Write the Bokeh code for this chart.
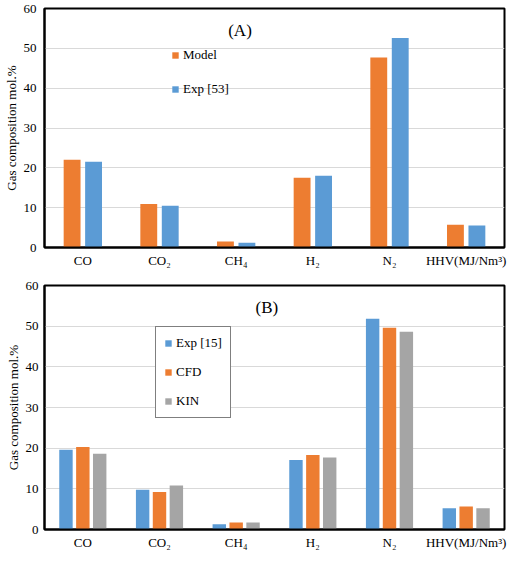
from bokeh.plotting import figure
from bokeh.layouts import column
from bokeh.models import Legend, LegendItem, Label, FactorRange, ColumnDataSource
from bokeh.transform import dodge
from bokeh.embed import file_html
from bokeh.resources import INLINE

categories = ["CO", "CO₂", "CH₄", "H₂", "N₂", "HHV(MJ/Nm³)"]

# Panel A
a_model = [22.0, 10.9, 1.5, 17.5, 47.7, 5.7]
a_exp53 = [21.5, 10.45, 1.2, 18.0, 52.6, 5.5]

# Panel B
b_exp15 = [19.6, 9.8, 1.3, 17.1, 51.8, 5.2]
b_cfd = [20.3, 9.25, 1.7, 18.35, 49.6, 5.65]
b_kin = [18.6, 10.8, 1.7, 17.7, 48.6, 5.25]

y_ticks = [0, 10, 20, 30, 40, 50, 60]

ORANGE = "#ED7D31"
BLUE = "#5B9BD5"
GRAY = "#A5A5A5"
FONT = "Liberation Serif"


def base_fig(height, mbl, mbr, mbt, mbb, ystand):
    p = figure(x_range=FactorRange(*categories), y_range=(0, 60), width=508, height=height,
               output_backend="svg", toolbar_location=None,
               min_border_left=mbl, min_border_right=mbr, min_border_top=mbt, min_border_bottom=mbb)
    p.outline_line_color = "black"
    p.outline_line_width = 2
    p.outline_line_alpha = 1
    p.xgrid.grid_line_color = None
    p.ygrid.ticker = y_ticks
    p.ygrid.grid_line_color = "#D9D9D9"
    p.yaxis.ticker = y_ticks
    for ax in (p.xaxis[0], p.yaxis[0]):
        ax.axis_line_color = "black"
        ax.axis_line_width = 2
        ax.major_tick_line_color = None
        ax.minor_tick_line_color = None
        ax.major_tick_out = 0
        ax.major_tick_in = 0
        ax.minor_tick_out = 0
        ax.minor_tick_in = 0
        ax.major_label_text_font = FONT
        ax.major_label_text_font_size = "13px"
        ax.major_label_text_color = "black"
    p.yaxis.major_label_standoff = ystand
    p.xaxis.major_label_standoff = 5
    p.xaxis.axis_label = None
    p.xaxis.axis_label_standoff = 0
    p.yaxis.axis_label = "Gas composition mol.%"
    p.yaxis.axis_label_text_font = FONT
    p.yaxis.axis_label_text_font_style = "normal"
    p.yaxis.axis_label_text_font_size = "13px"
    p.yaxis.axis_label_text_color = "black"
    p.yaxis.axis_label_standoff = 2
    p.background_fill_color = "white"
    p.border_fill_color = "white"
    return p


# ---------- Panel A ----------
src_a = ColumnDataSource(dict(cat=categories, model=a_model, exp=a_exp53))
p1 = base_fig(270, 37, 2, 8, 23, 8)
r_model = p1.vbar(x=dodge("cat", -0.14, range=p1.x_range), top="model", width=0.22,
                  source=src_a, fill_color=ORANGE, line_color=None)
r_exp = p1.vbar(x=dodge("cat", 0.14, range=p1.x_range), top="exp", width=0.22,
                source=src_a, fill_color=BLUE, line_color=None)
leg_a = Legend(items=[LegendItem(label="Model", renderers=[r_model]),
                      LegendItem(label="Exp [53]", renderers=[r_exp])],
               location=(127, 150), border_line_color=None, background_fill_alpha=0,
               padding=0, margin=0, spacing=18, glyph_width=8, glyph_height=8,
               label_height=14, label_standoff=4, label_text_font=FONT,
               label_text_font_size="13px", label_text_color="black")
p1.add_layout(leg_a)
p1.add_layout(Label(x=2.55, y=54.5, text="(A)", text_font=FONT, text_font_size="17px",
                    text_align="center", text_baseline="middle", text_color="black"))

# ---------- Panel B ----------
src_b = ColumnDataSource(dict(cat=categories, exp=b_exp15, cfd=b_cfd, kin=b_kin))
p2 = base_fig(282, 30, 4, 15, 12, 6)
r_e = p2.vbar(x=dodge("cat", -0.22, range=p2.x_range), top="exp", width=0.175,
              source=src_b, fill_color=BLUE, line_color=None)
r_c = p2.vbar(x=dodge("cat", 0.0, range=p2.x_range), top="cfd", width=0.175,
              source=src_b, fill_color=ORANGE, line_color=None)
r_k = p2.vbar(x=dodge("cat", 0.22, range=p2.x_range), top="kin", width=0.175,
              source=src_b, fill_color=GRAY, line_color=None)
leg_b = Legend(items=[LegendItem(label="Exp [15]", renderers=[r_e]),
                      LegendItem(label="CFD", renderers=[r_c]),
                      LegendItem(label="KIN", renderers=[r_k])],
               location=(111, 111), border_line_color="black", border_line_width=1.5,
               background_fill_color="white", background_fill_alpha=1,
               padding=8, margin=0, spacing=13, glyph_width=8, glyph_height=8,
               label_height=14, label_standoff=4, label_text_font=FONT,
               label_text_font_size="13px", label_text_color="black")
p2.add_layout(leg_b)
p2.add_layout(Label(x=2.9, y=54.5, text="(B)", text_font=FONT, text_font_size="17px",
                    text_align="center", text_baseline="middle", text_color="black"))

layout = column(p1, p2, spacing=0)
open("out.html", "w").write(file_html(layout, INLINE))
